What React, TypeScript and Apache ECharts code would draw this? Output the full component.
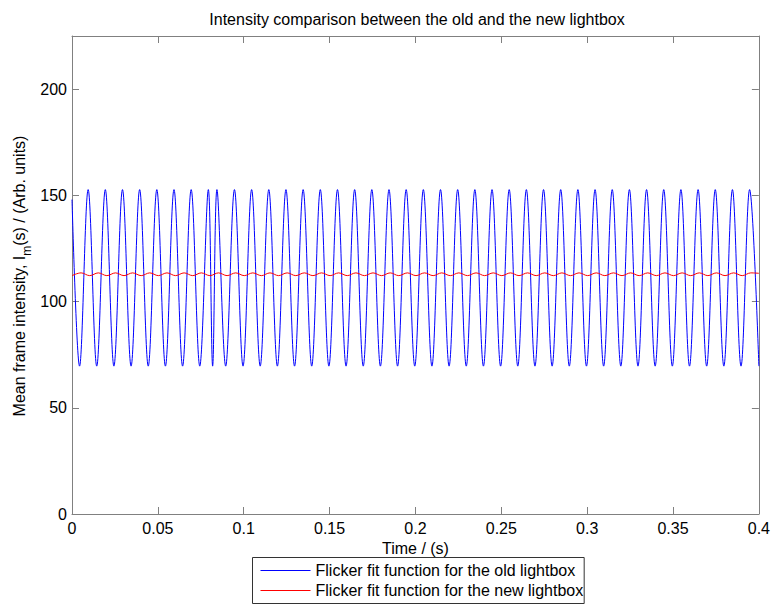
import React, { useEffect, useRef } from 'react';
import * as echarts from 'echarts';

const FONT = '"Liberation Sans", Arial, Helvetica, sans-serif';

const chartTitle = 'Intensity comparison between the old and the new lightbox';
const xAxisName = 'Time / (s)';
const seriesNames = [
  'Flicker fit function for the old lightbox',
  'Flicker fit function for the new lightbox',
];
const seriesColors = ['#0000ff', '#ff0000'];

const xTicks = [0, 0.05, 0.1, 0.15, 0.2, 0.25, 0.3, 0.35, 0.4];
const yTicks = [0, 50, 100, 150, 200];
const xRange = [0, 0.4];
const yRange = [0, 225];

// Old lightbox: turning points of the fitted curve
const oldStart = [0, 148];
const oldPeakLevel = 152.7;
const oldTroughLevel = 69.6;
const oldPeakTimes = [
  0.0094, 0.0194, 0.0294, 0.0394, 0.0494, 0.0594, 0.0694, 0.0794, 0.0844, 0.0946,
  0.1046, 0.1146, 0.1246, 0.1346, 0.1446, 0.1546, 0.1646, 0.1746, 0.1846, 0.1946,
  0.2046, 0.2146, 0.2246, 0.2346, 0.2446, 0.2546, 0.2646, 0.2746, 0.2846, 0.2946,
  0.3046, 0.3146, 0.3246, 0.3346, 0.3446, 0.3546, 0.3646, 0.3746, 0.3846, 0.3946,
];
const oldTroughTimes = [
  0.0044, 0.0144, 0.0244, 0.0344, 0.0444, 0.0544, 0.0644, 0.0744, 0.0819, 0.0895,
  0.0996, 0.1096, 0.1196, 0.1296, 0.1396, 0.1496, 0.1596, 0.1696, 0.1796, 0.1896,
  0.1996, 0.2096, 0.2196, 0.2296, 0.2396, 0.2496, 0.2596, 0.2696, 0.2796, 0.2896,
  0.2996, 0.3096, 0.3196, 0.3296, 0.3396, 0.3496, 0.3596, 0.3696, 0.3796, 0.3896,
  0.4,
];

// New lightbox: turning points of the fitted curve
const newEnd = [0.4, 113.3];
const newPeakLevel = 113.5;
const newTroughLevel = 112.2;
const newPeakTimes = [
  0.0053, 0.0153, 0.0253, 0.0353, 0.0453, 0.0553, 0.0653, 0.0753, 0.0853, 0.0953,
  0.1053, 0.1153, 0.1253, 0.1353, 0.1453, 0.1553, 0.1653, 0.1753, 0.1853, 0.1953,
  0.2053, 0.2153, 0.2253, 0.2353, 0.2453, 0.2553, 0.2653, 0.2753, 0.2853, 0.2953,
  0.3053, 0.3153, 0.3253, 0.3353, 0.3453, 0.3553, 0.3653, 0.3753, 0.3853, 0.3953,
];
const newTroughTimes = [
  0, 0.0103, 0.0203, 0.0303, 0.0403, 0.0503, 0.0603, 0.0703, 0.0803, 0.0903,
  0.1003, 0.1103, 0.1203, 0.1303, 0.1403, 0.1503, 0.1603, 0.1703, 0.1803, 0.1903,
  0.2003, 0.2103, 0.2203, 0.2303, 0.2403, 0.2503, 0.2603, 0.2703, 0.2803, 0.2903,
  0.3003, 0.3103, 0.3203, 0.3303, 0.3403, 0.3503, 0.3603, 0.3703, 0.3803, 0.3903,
];

function buildSeriesData(
  peaks: number[], peakLevel: number,
  troughs: number[], troughLevel: number,
  extra: number[][],
) {
  const pts: number[][] = [];
  peaks.forEach((t) => pts.push([t, peakLevel]));
  troughs.forEach((t) => pts.push([t, troughLevel]));
  extra.forEach((p) => pts.push([p[0], p[1]]));
  pts.sort((a, b) => a[0] - b[0]);
  return pts;
}

const AXIS_COLOR = '#808080';

function makeXAxis(primary: boolean) {
  return {
    type: 'value',
    min: xRange[0],
    max: xRange[1],
    position: primary ? 'bottom' : 'top',
    axisLine: { show: true, onZero: false, lineStyle: { color: AXIS_COLOR, width: 1 } },
    axisTick: { show: true, inside: true, length: 7, customValues: xTicks, lineStyle: { color: AXIS_COLOR } },
    axisLabel: primary
      ? { show: true, customValues: xTicks, margin: 6, fontSize: 16, fontFamily: FONT, color: '#000' }
      : { show: false },
    splitLine: { show: false },
    ...(primary
      ? {
          name: xAxisName,
          nameLocation: 'middle',
          nameGap: 25,
          nameTextStyle: { fontSize: 16, fontFamily: FONT, color: '#000' },
        }
      : {}),
  };
}

function makeYAxis(primary: boolean) {
  return {
    type: 'value',
    min: yRange[0],
    max: yRange[1],
    position: primary ? 'left' : 'right',
    axisLine: { show: true, onZero: false, lineStyle: { color: AXIS_COLOR, width: 1 } },
    axisTick: { show: true, inside: true, length: 7, customValues: yTicks, lineStyle: { color: AXIS_COLOR } },
    axisLabel: primary
      ? { show: true, customValues: yTicks, margin: 5, fontSize: 16, fontFamily: FONT, color: '#000' }
      : { show: false },
    splitLine: { show: false },
  };
}

export default function App() {
  const ref = useRef<HTMLDivElement>(null);

  useEffect(() => {
    if (!ref.current) return;
    const chart = echarts.init(ref.current, null, { renderer: 'svg' });

    const oldData = buildSeriesData(oldPeakTimes, oldPeakLevel, oldTroughTimes, oldTroughLevel, [oldStart]);
    const newData = buildSeriesData(newPeakTimes, newPeakLevel, newTroughTimes, newTroughLevel, [newEnd]);

    const option: any = {
      animation: false,
      backgroundColor: '#ffffff',
      title: {
        text: chartTitle,
        left: 417,
        top: 11,
        padding: 0,
        textAlign: 'center',
        textStyle: { fontSize: 16, fontWeight: 'normal', fontFamily: FONT, color: '#000' },
      },
      grid: { left: 72, top: 36, right: 11, bottom: 90, containLabel: false },
      xAxis: [makeXAxis(true), makeXAxis(false)],
      yAxis: [makeYAxis(true), makeYAxis(false)],
      legend: {
        orient: 'vertical',
        left: 252.5,
        top: 557.5,
        padding: [5, 1, 5, 8],
        itemGap: 4,
        itemWidth: 50,
        itemHeight: 1,
        icon: 'rect',
        selectedMode: false,
        borderColor: '#333',
        borderWidth: 1,
        backgroundColor: '#fff',
        textStyle: { fontSize: 16, fontFamily: FONT, color: '#000' },
        itemStyle: { borderWidth: 0 },
        data: seriesNames,
      },
      graphic: [
        {
          type: 'text',
          x: 22.4,
          y: 276,
          rotation: Math.PI / 2,
          style: {
            text: '{a|Mean frame intensity, I}{s|m}{a|(s) / (Arb. units)}',
            align: 'center',
            verticalAlign: 'middle',
            rich: {
              a: { fontSize: 16, fontFamily: FONT, fill: '#000', lineHeight: 16, verticalAlign: 'top' },
              s: { fontSize: 12, fontFamily: FONT, fill: '#000', lineHeight: 22, verticalAlign: 'bottom' },
            },
          },
        },
      ],
      series: [
        {
          name: seriesNames[0],
          type: 'line',
          xAxisIndex: 0,
          yAxisIndex: 0,
          data: oldData,
          symbol: 'none',
          smooth: 0.36,
          silent: true,
          color: seriesColors[0],
          lineStyle: { color: seriesColors[0], width: 1 },
        },
        {
          name: seriesNames[1],
          type: 'line',
          xAxisIndex: 0,
          yAxisIndex: 0,
          data: newData,
          symbol: 'none',
          smooth: 0.36,
          silent: true,
          color: seriesColors[1],
          lineStyle: { color: seriesColors[1], width: 1 },
        },
      ],
    };

    chart.setOption(option);
    return () => chart.dispose();
  }, []);

  return (
    <div
      ref={ref}
      style={{ position: 'absolute', left: 0, top: 0, width: 773, height: 604, background: '#fff' }}
    />
  );
}
